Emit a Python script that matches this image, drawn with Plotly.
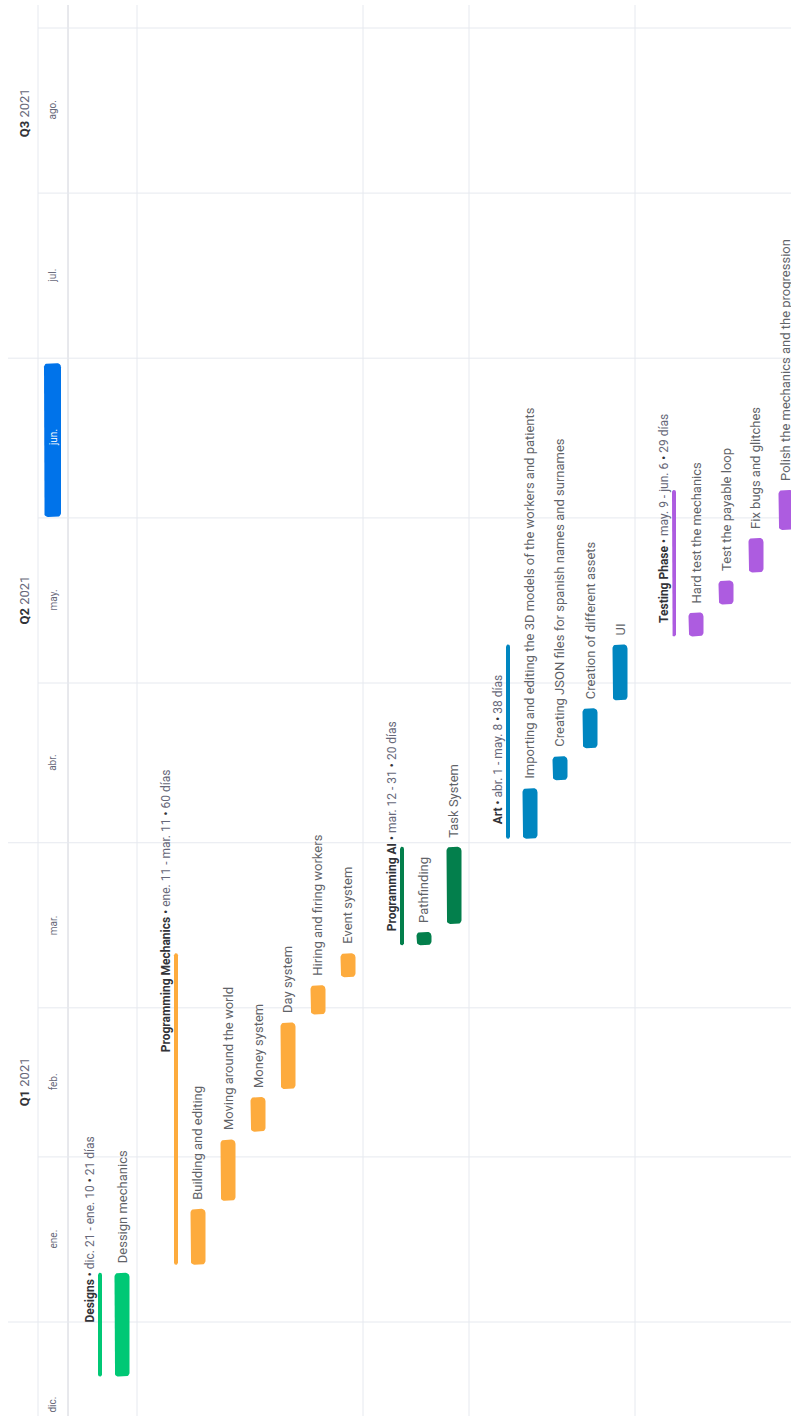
import math
import pandas as pd
import plotly.graph_objects as go

# ---------------- data ----------------
groups = ["Designs", "Programming Mechanics", "Programming AI", "Art", "Testing Phase"]
group_start = ["2020-12-21", "2021-01-11", "2021-03-12", "2021-04-01", "2021-05-09"]
group_end = ["2021-01-10", "2021-03-11", "2021-03-31", "2021-05-08", "2021-06-06"]
group_range_text = ["dic. 21 - ene. 10", "ene. 11 - mar. 11", "mar. 12 - 31",
                    "abr. 1 - may. 8", "may. 9 - jun. 6"]
group_days = [21, 60, 20, 38, 29]

task_names = [
    "Dessign mechanics",
    "Building and editing", "Moving around the world", "Money system", "Day system",
    "Hiring and firing workers", "Event system",
    "Pathfinding", "Task System",
    "Importing and editing the 3D models of the workers and patients",
    "Creating JSON files for spanish names and surnames",
    "Creation of different assets", "UI",
    "Hard test the mechanics", "Test the payable loop", "Fix bugs and glitches",
    "Polish the mechanics and the progression",
]
task_group = [0, 1, 1, 1, 1, 1, 1, 2, 2, 3, 3, 3, 3, 4, 4, 4, 4]
task_start = ["2020-12-21",
              "2021-01-11", "2021-01-23", "2021-02-05", "2021-02-13", "2021-02-27", "2021-03-06",
              "2021-03-12", "2021-03-16",
              "2021-04-01", "2021-04-12", "2021-04-18", "2021-04-27",
              "2021-05-09", "2021-05-15", "2021-05-21", "2021-05-29"]
task_end = ["2021-01-10",
            "2021-01-22", "2021-02-04", "2021-02-12", "2021-02-26", "2021-03-05", "2021-03-11",
            "2021-03-15", "2021-03-31",
            "2021-04-11", "2021-04-17", "2021-04-26", "2021-05-08",
            "2021-05-14", "2021-05-20", "2021-05-28", "2021-06-06"]

month_labels = ["dic.", "ene.", "feb.", "mar.", "abr.", "may.", "jun.", "jul.", "ago."]
month_starts = ["2020-12-01", "2021-01-01", "2021-02-01", "2021-03-01", "2021-04-01",
                "2021-05-01", "2021-06-01", "2021-07-01", "2021-08-01", "2021-09-01"]
quarter_labels = ["Q1", "Q2", "Q3"]
quarter_year = ["2021", "2021", "2021"]
quarter_starts = ["2021-01-01", "2021-04-01", "2021-07-01", "2021-10-01"]
current_month = "jun."

# ---------------- style / layout ----------------
W, H = 791, 1416
PX_PER_DAY = 5.325
ANCHOR = pd.Timestamp("2021-01-01")
ANCHOR_PX = 1322
Y_BOTTOM = ANCHOR - pd.Timedelta(days=(H - ANCHOR_PX) / PX_PER_DAY)
Y_TOP = ANCHOR + pd.Timedelta(days=ANCHOR_PX / PX_PER_DAY)

group_colors = ["#00c875", "#fdab3d", "#037f4c", "#0086c0", "#ad5ce0"]
label_shift_px = [56, 214, 16, 16, 15]
GRID = "#e6e9ef"
DARK = "#323338"
GRAY = "#676879"
TASK_TXT = "#5f6368"
FONT = "Roboto"

ROW = 30
FIRST_SECTION = 61
BAR_HW = 7.5
LINE_HW = 2
INSET = pd.Timedelta(days=4 / PX_PER_DAY)
TOP_GAP_PAPER = 1 - 5 / H


def day(s):
    return pd.Timestamp(s)


def rounded_rect(xc, hw, t0, t1, r):
    ry = pd.Timedelta(days=r / PX_PER_DAY)
    xs, ys = [], []
    corners = [(xc + hw - r, t1 - ry, 0), (xc - hw + r, t1 - ry, 90),
               (xc - hw + r, t0 + ry, 180), (xc + hw - r, t0 + ry, 270)]
    for cx, cy, a0 in corners:
        for k in range(7):
            a = math.radians(a0 + 15 * k)
            xs.append(cx + r * math.cos(a))
            ys.append(cy + ry * math.sin(a))
    xs.append(xs[0])
    ys.append(ys[0])
    return xs, ys


# row geometry
group_label_x, group_line_x, separators = [], [], []
task_x = [None] * len(task_names)
sx = FIRST_SECTION
for g in range(len(groups)):
    group_label_x.append(sx + 29)
    group_line_x.append(sx + 39)
    idx = [i for i, tg in enumerate(task_group) if tg == g]
    for k, i in enumerate(idx):
        task_x[i] = sx + 61 + ROW * k
    sx = task_x[idx[-1]] + 15
    separators.append(sx)

fig = go.Figure()
shapes = []
annotations = []

# grid: vertical lines
for xv, col in [(38, GRID), (68, "#d0d2da")] + [(s, GRID) for s in separators[:-1]]:
    shapes.append(dict(type="line", xref="x", yref="paper", x0=xv, x1=xv, y0=0, y1=TOP_GAP_PAPER,
                       line=dict(color=col, width=1), layer="below"))
# grid: month / quarter lines
for ms in month_starts:
    t = day(ms)
    if not (Y_BOTTOM < t < Y_TOP):
        continue
    x0 = 8 if ms in quarter_starts else 38
    shapes.append(dict(type="line", xref="x", yref="y", x0=x0, x1=W, y0=t, y1=t,
                       line=dict(color=GRID, width=1), layer="below"))

# current month pill
ci = month_labels.index(current_month)
px_, py_ = rounded_rect(52.5, 8.5, day(month_starts[ci]) + pd.Timedelta(days=1 / PX_PER_DAY),
                        day(month_starts[ci + 1]) - pd.Timedelta(days=5 / PX_PER_DAY), 4)
fig.add_trace(go.Scatter(x=px_, y=py_, mode="lines", fill="toself", fillcolor="#0073ea",
                         line=dict(width=0, color="#0073ea"), hoverinfo="skip", showlegend=False))

# month labels
for i, lab in enumerate(month_labels):
    t0, t1 = day(month_starts[i]), day(month_starts[i + 1])
    mid = t0 + (t1 - t0) / 2
    annotations.append(dict(x=53, y=mid, xref="x", yref="y", text=lab, showarrow=False,
                            textangle=-90, xanchor="center", yanchor="middle",
                            font=dict(family=FONT, size=10,
                                      color="white" if lab == current_month else GRAY)))
# quarter labels
for i, q in enumerate(quarter_labels):
    t0, t1 = day(quarter_starts[i]), day(quarter_starts[i + 1])
    mid = t0 + (t1 - t0) / 2
    annotations.append(dict(x=24, y=mid, xref="x", yref="y",
                            text=f"<b>{q}</b> <span style='color:{GRAY}'>{quarter_year[i]}</span>",
                            showarrow=False, textangle=-90, xanchor="center", yanchor="middle",
                            font=dict(family=FONT, size=13, color=DARK)))

# group lines + labels
for g, name in enumerate(groups):
    t0 = day(group_start[g]) + INSET
    t1 = day(group_end[g]) + pd.Timedelta(days=1) - INSET
    xs, ys = rounded_rect(group_line_x[g], LINE_HW, t0, t1, 2)
    fig.add_trace(go.Scatter(x=xs, y=ys, mode="lines", fill="toself", fillcolor=group_colors[g],
                             line=dict(width=0, color=group_colors[g]), hoverinfo="skip",
                             showlegend=False))
    txt = (f"<b>{name}</b> • <span style='color:{GRAY}'>{group_range_text[g]}</span> • "
           f"<span style='color:{GRAY}'>{group_days[g]} días</span>")
    annotations.append(dict(x=group_label_x[g], y=day(group_start[g]), xref="x", yref="y",
                            text=txt, showarrow=False, textangle=-90, xanchor="center",
                            yanchor="bottom", yshift=label_shift_px[g],
                            font=dict(family=FONT, size=12, color=DARK)))

# task bars + labels
for g in range(len(groups)):
    xs_all, ys_all = [], []
    for i in range(len(task_names)):
        if task_group[i] != g:
            continue
        t0 = day(task_start[i]) + INSET
        t1 = day(task_end[i]) + pd.Timedelta(days=1) - INSET
        xs, ys = rounded_rect(task_x[i], BAR_HW, t0, t1, 4)
        xs_all += xs + [None]
        ys_all += ys + [None]
        annotations.append(dict(x=task_x[i], y=day(task_end[i]) + pd.Timedelta(days=1),
                                xref="x", yref="y", text=task_names[i], showarrow=False,
                                textangle=-90, xanchor="center", yanchor="bottom", yshift=3,
                                font=dict(family=FONT, size=13, color=TASK_TXT)))
    fig.add_trace(go.Scatter(x=xs_all, y=ys_all, mode="lines", fill="toself",
                             fillcolor=group_colors[g], line=dict(width=0, color=group_colors[g]),
                             hoverinfo="skip", showlegend=False))

fig.update_layout(
    width=W, height=H, autosize=False,
    margin=dict(l=0, r=0, t=0, b=0, pad=0),
    paper_bgcolor="white", plot_bgcolor="white",
    showlegend=False,
    xaxis=dict(range=[0, W], visible=False, fixedrange=True),
    yaxis=dict(type="date", range=[Y_BOTTOM, Y_TOP], visible=False, fixedrange=True),
    shapes=shapes, annotations=annotations,
)

fig.write_html("out.html")
